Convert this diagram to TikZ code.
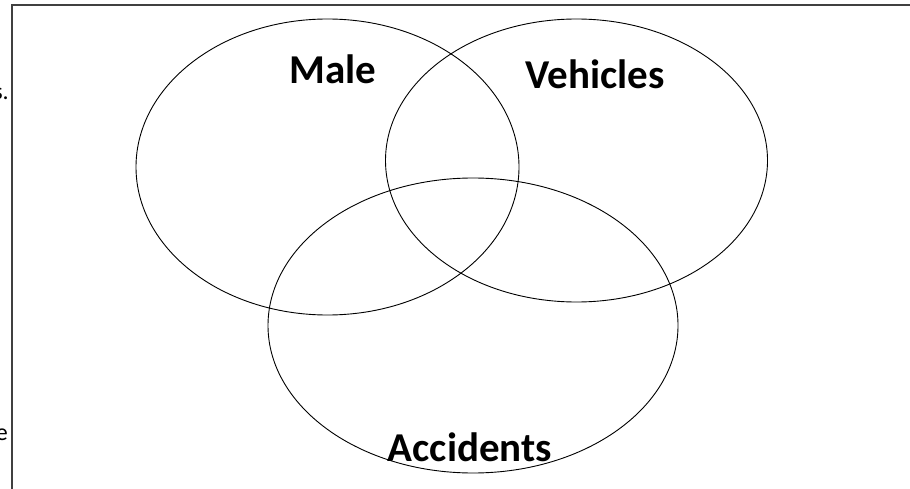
\documentclass[tikz,border=0pt]{standalone}
\usepackage{fontspec}
\setmainfont{Carlito}
\begin{document}
\begin{tikzpicture}[x=1pt,y=-1pt,
  setshape/.style={draw=black,line width=0.9pt},
  setlabel/.style={font=\bfseries\fontsize{41}{46}\selectfont,inner sep=0pt},
  frag/.style={font=\fontsize{24}{28}\selectfont,inner sep=0pt}]
\useasboundingbox (0,0) rectangle (910,489);
\fill[white] (0,0) rectangle (910,489);
% frame
\draw[line width=1.4pt,black!75] (12,489) -- (12,5) -- (910,5);
% sets
\draw[setshape] (327.5,167) ellipse [x radius=191.5, y radius=148];
\draw[setshape] (576.5,160.5) ellipse [x radius=191, y radius=141.5];
\draw[setshape] (473,325.5) ellipse [x radius=205, y radius=147.5];
% labels
\node[setlabel] (male) at (333,69) {Male};
\node[setlabel] (veh) at (595,74) {Vehicles};
\node[setlabel] (acc) at (470,447) {Accidents};
% cut-off fragments at left edge
\node[frag,anchor=base east] (f1) at (9,100) {s.};
\node[frag,anchor=base east] (f2) at (8,440) {e};
\end{tikzpicture}
\end{document}
